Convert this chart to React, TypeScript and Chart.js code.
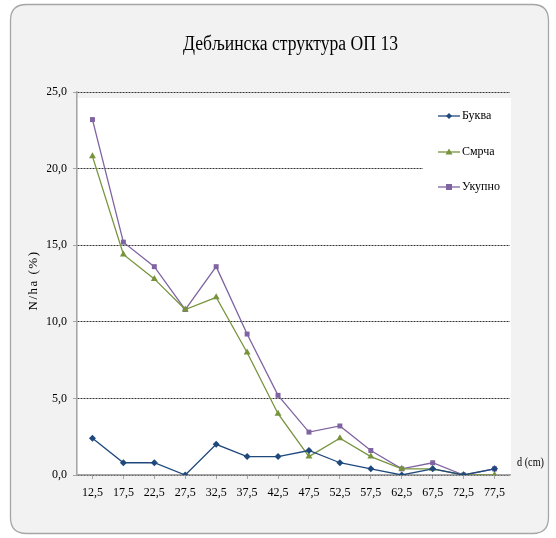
import React, { useEffect, useRef } from "react";
import { Chart, registerables } from "chart.js";

Chart.register(...registerables);

const categories = ["12,5", "17,5", "22,5", "27,5", "32,5", "37,5", "42,5", "47,5", "52,5", "57,5", "62,5", "67,5", "72,5", "77,5"];
const bukva = [2.4, 0.8, 0.8, 0.0, 2.0, 1.2, 1.2, 1.6, 0.8, 0.4, 0.0, 0.4, 0.0, 0.4];
const smrca = [20.8, 14.4, 12.8, 10.8, 11.6, 8.0, 4.0, 1.2, 2.4, 1.2, 0.4, 0.4, 0.0, 0.0];
const ukupno = [23.2, 15.2, 13.6, 10.8, 13.6, 9.2, 5.2, 2.8, 3.2, 1.6, 0.4, 0.8, 0.0, 0.4];
const seriesNames = ["Буква", "Смрча", "Укупно"];
const titleText = "Дебљинска структура ОП 13";
const yTitle = "N/ha (%)";
const xTitle = "d (cm)";

const BLUE = "#1F497D";
const GREEN = "#77933C";
const PURPLE = "#8064A2";
const SERIF = "'Liberation Serif', 'Times New Roman', serif";

function fitText(ctx: any, text: string, cx: number, cy: number, width: number, align: string) {
  const m = ctx.measureText(text).width;
  const s = width / m;
  ctx.save();
  ctx.translate(cx, cy);
  ctx.scale(s, 1);
  ctx.textAlign = align;
  ctx.fillText(text, 0, 0);
  ctx.restore();
}

const decorPlugin = {
  id: "decor",
  beforeDraw(chart: any) {
    const { ctx, chartArea } = chart;
    ctx.save();
    ctx.fillStyle = "#ffffff";
    ctx.fillRect(0, 0, chart.width, chart.height);
    const x = 10.5, y = 4.5, w = 538, h = 529, r = 16;
    ctx.beginPath();
    ctx.moveTo(x + r, y);
    ctx.lineTo(x + w - r, y);
    ctx.quadraticCurveTo(x + w, y, x + w, y + r);
    ctx.lineTo(x + w, y + h - r);
    ctx.quadraticCurveTo(x + w, y + h, x + w - r, y + h);
    ctx.lineTo(x + r, y + h);
    ctx.quadraticCurveTo(x, y + h, x, y + h - r);
    ctx.lineTo(x, y + r);
    ctx.quadraticCurveTo(x, y, x + r, y);
    ctx.closePath();
    ctx.fillStyle = "#f2f2f2";
    ctx.fill();
    ctx.strokeStyle = "#a6a6a6";
    ctx.lineWidth = 1.3;
    ctx.stroke();
    ctx.fillStyle = "#ffffff";
    ctx.fillRect(chartArea.left + 1, chartArea.top + 6, chartArea.right - chartArea.left, chartArea.bottom - chartArea.top - 6);
    ctx.fillStyle = "#000000";
    ctx.textBaseline = "alphabetic";
    ctx.font = `20px ${SERIF}`;
    fitText(ctx, titleText, 290.5, 50, 215, "center");
    ctx.save();
    ctx.translate(34, 280.5);
    ctx.rotate(-Math.PI / 2);
    ctx.font = `13px ${SERIF}`;
    ctx.textBaseline = "middle";
    (ctx as any).letterSpacing = "1.5px";
    ctx.textAlign = "center";
    ctx.fillText(yTitle, 0, 0);
    (ctx as any).letterSpacing = "0px";
    ctx.restore();
    ctx.font = `12px ${SERIF}`;
    ctx.textBaseline = "middle";
    fitText(ctx, xTitle, 517, 463, 27, "left");
    ctx.restore();
  },
  afterDraw(chart: any) {
    const { ctx } = chart;
    ctx.save();
    ctx.fillStyle = "#ffffff";
    ctx.fillRect(423, 100, 88, 104);
    const ys = [116, 152, 187];
    chart.data.datasets.forEach((ds: any, i: number) => {
      const yy = ys[i];
      ctx.strokeStyle = ds.borderColor;
      ctx.lineWidth = 1.3;
      ctx.beginPath();
      ctx.moveTo(438, yy);
      ctx.lineTo(460, yy);
      ctx.stroke();
      ctx.fillStyle = ds.borderColor;
      const cx = 449;
      ctx.beginPath();
      if (ds.pointStyle === "rectRot") {
        ctx.moveTo(cx, yy - 3);
        ctx.lineTo(cx + 3, yy);
        ctx.lineTo(cx, yy + 3);
        ctx.lineTo(cx - 3, yy);
      } else if (ds.pointStyle === "triangle") {
        ctx.moveTo(cx, yy - 3.5);
        ctx.lineTo(cx + 3.5, yy + 2.5);
        ctx.lineTo(cx - 3.5, yy + 2.5);
      } else {
        ctx.rect(cx - 3, yy - 3, 6, 6);
      }
      ctx.closePath();
      ctx.fill();
      ctx.fillStyle = "#000000";
      ctx.font = `12px ${SERIF}`;
      ctx.textBaseline = "middle";
      ctx.textAlign = "left";
      ctx.fillText(ds.label, 462, yy);
    });
    ctx.restore();
  },
};

export default function App() {
  const ref = useRef<HTMLCanvasElement | null>(null);
  useEffect(() => {
    if (!ref.current) return;
    const chart = new Chart(ref.current, {
      type: "line",
      data: {
        labels: categories,
        datasets: [
          { label: seriesNames[0], data: bukva, borderColor: BLUE, backgroundColor: BLUE, pointStyle: "rectRot", pointRadius: 3.5, borderWidth: 1.3, pointBorderWidth: 0 },
          { label: seriesNames[1], data: smrca, borderColor: GREEN, backgroundColor: GREEN, pointStyle: "triangle", pointRadius: 4, borderWidth: 1.3, pointBorderWidth: 0 },
          { label: seriesNames[2], data: ukupno, borderColor: PURPLE, backgroundColor: PURPLE, pointStyle: "rect", pointRadius: 3.5, borderWidth: 1.3, pointBorderWidth: 0 },
        ],
      },
      options: {
        responsive: false,
        animation: false,
        devicePixelRatio: 1,
        layout: { padding: { left: 47, right: 46, top: 92, bottom: 33 } },
        plugins: { legend: { display: false }, title: { display: false }, tooltip: { enabled: false } },
        scales: {
          x: {
            type: "category",
            offset: true,
            grid: { drawOnChartArea: false, drawTicks: true, tickLength: 4, color: "#a6a6a6", offset: false },
            border: { display: true, color: "#a6a6a6", width: 1.5 },
            ticks: { color: "#000", font: { family: SERIF, size: 12 }, padding: 7, maxRotation: 0, autoSkip: false },
            afterFit: (s: any) => { s.height = 30; },
          },
          y: {
            min: 0,
            max: 25,
            grid: { color: "#333333", lineWidth: 1, drawTicks: true, tickLength: 4, tickColor: "#a6a6a6" },
            border: { display: true, color: "#a6a6a6", width: 1.5, dash: [2, 1] },
            ticks: { stepSize: 5, color: "#000", font: { family: SERIF, size: 12 }, padding: 6, callback: (v: any) => Number(v).toFixed(1).replace(".", ",") },
            afterFit: (s: any) => { s.width = 30; },
          },
        },
      },
      plugins: [decorPlugin],
    });
    return () => chart.destroy();
  }, []);
  return (
    <div style={{ position: "absolute", left: 0, top: 0, width: 556, height: 538 }}>
      <canvas ref={ref} width={556} height={538} style={{ width: 556, height: 538 }} />
    </div>
  );
}
